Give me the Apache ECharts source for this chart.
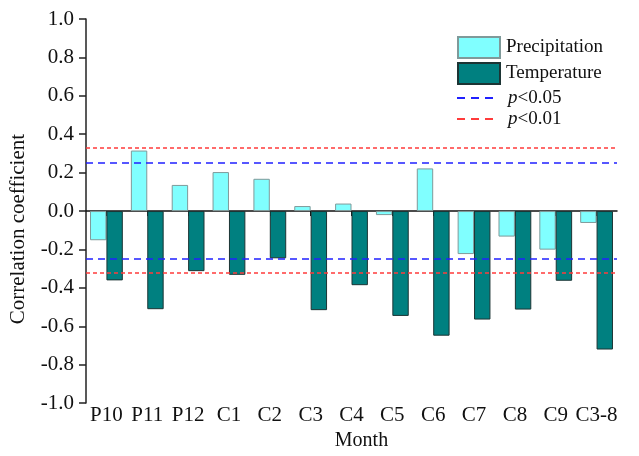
<!DOCTYPE html>
<html>
<head>
<meta charset="utf-8">
<style>
  html, body { margin: 0; padding: 0; background: #ffffff; }
  #chart { width: 639px; height: 456px; }
</style>
<script src="https://cdn.jsdelivr.net/npm/echarts@6/dist/echarts.min.js"></script>
</head>
<body>
<div id="chart"></div>
<script>
// Monthly correlation of growth with precipitation and temperature
const months = ['P10', 'P11', 'P12', 'C1', 'C2', 'C3', 'C4', 'C5', 'C6', 'C7', 'C8', 'C9', 'C3-8'];
const precipitation = [-0.152, 0.315, 0.136, 0.203, 0.168, 0.026, 0.039, -0.021, 0.222, -0.224, -0.133, -0.201, -0.062];
const temperature = [-0.361, -0.511, -0.313, -0.332, -0.246, -0.516, -0.386, -0.546, -0.649, -0.565, -0.513, -0.363, -0.721];
// significance thresholds (upper, lower)
const p05 = [0.25, -0.25];
const p01 = [0.33, -0.32];
const yTicks = [-1.0, -0.8, -0.6, -0.4, -0.2, 0.0, 0.2, 0.4, 0.6, 0.8, 1.0];

const FONT = 'Liberation Serif';
const BLUE = '#2020ff';
const RED = '#ff3b3b';
const blueDash = [7, 5];
const redDash = [4, 3];
// three short dashes used as the legend key for the threshold lines
const dashIcon = 'path://M0,0h8v2h-8z M14,0h8v2h-8z M28,0h8v2h-8z';

function thresholdLines(vals, color, dash) {
  return {
    silent: true,
    symbol: ['none', 'none'],
    label: { show: false },
    lineStyle: { color: color, type: dash, width: 1.5 },
    data: vals.map(v => ({ yAxis: v }))
  };
}

const chart = echarts.init(document.getElementById('chart'), null, { renderer: 'canvas' });

chart.setOption({
  backgroundColor: '#ffffff',
  animation: false,
  textStyle: { fontFamily: FONT },
  grid: { left: 86, right: 22, top: 19, bottom: 49 },
  legend: [
    {
      data: ['Precipitation', 'Temperature'],
      orient: 'vertical',
      left: 457,
      top: 36,
      padding: 0,
      itemWidth: 42,
      itemHeight: 21,
      itemGap: 3,
      selectedMode: false,
      icon: 'rect',
      textStyle: { fontFamily: FONT, fontSize: 19, color: '#111', padding: [0, 0, 0, 1] }
    },
    {
      data: [
        { name: 'p<0.05', icon: dashIcon },
        { name: 'p<0.01', icon: dashIcon }
      ],
      orient: 'vertical',
      left: 457,
      top: 88,
      padding: 0,
      itemWidth: 36,
      itemHeight: 2,
      itemGap: 1,
      selectedMode: false,
      formatter: name => '{i|p}' + name.slice(1),
      textStyle: {
        fontFamily: FONT, fontSize: 19, color: '#111', lineHeight: 20,
        rich: {
          i: { fontFamily: FONT, fontSize: 19, fontStyle: 'italic', color: '#111', lineHeight: 20, padding: [0, 0, 0, 10] }
        }
      }
    }
  ],
  xAxis: [
    {
      type: 'category',
      data: months,
      position: 'bottom',
      axisLine: { onZero: true, lineStyle: { color: '#111', width: 1.5 } },
      axisTick: { show: true, alignWithLabel: true, length: 5, lineStyle: { color: '#111' } },
      axisLabel: { show: false },
      splitLine: { show: false }
    },
    {
      type: 'category',
      data: months,
      position: 'bottom',
      name: 'Month',
      nameLocation: 'middle',
      nameGap: 14,
      nameTextStyle: { fontFamily: FONT, fontSize: 20, color: '#111', verticalAlign: 'top', padding: [0, 0, 0, 20] },
      axisLine: { show: false, onZero: false },
      axisTick: { show: false },
      axisLabel: { fontFamily: FONT, fontSize: 21, color: '#111', margin: 2, interval: 0 },
      splitLine: { show: false }
    }
  ],
  yAxis: {
    type: 'value',
    min: -1,
    max: 1,
    interval: 0.2,
    name: 'Correlation coefficient',
    nameLocation: 'middle',
    nameGap: 57,
    nameTextStyle: { fontFamily: FONT, fontSize: 21, color: '#111', padding: [0, 36, 0, 0] },
    axisLine: { show: true, lineStyle: { color: '#222', width: 1.5 } },
    axisTick: { show: true, length: 7, lineStyle: { color: '#222', width: 1.5 } },
    axisLabel: {
      fontFamily: FONT, fontSize: 21, color: '#111', margin: 12,
      formatter: v => {
        const t = yTicks.find(x => Math.abs(x - v) < 1e-9);
        return (t === undefined ? v : t).toFixed(1);
      }
    },
    splitLine: { show: false }
  },
  series: [
    {
      name: 'Precipitation',
      type: 'bar',
      xAxisIndex: 0,
      data: precipitation,
      barWidth: 16.4,
      barGap: '0%',
      itemStyle: { color: '#80ffff', borderColor: '#7f9a9a', borderWidth: 1 }
    },
    {
      name: 'Temperature',
      type: 'bar',
      xAxisIndex: 0,
      data: temperature,
      barWidth: 16.4,
      barGap: '0%',
      itemStyle: { color: '#008080', borderColor: '#1c3434', borderWidth: 1 }
    },
    {
      name: 'p<0.05',
      type: 'line',
      xAxisIndex: 0,
      data: [],
      symbol: 'none',
      color: BLUE,
      itemStyle: { color: BLUE },
      lineStyle: { color: BLUE, type: blueDash, width: 1.5 },
      markLine: thresholdLines(p05, BLUE, blueDash)
    },
    {
      name: 'p<0.01',
      type: 'line',
      xAxisIndex: 0,
      data: [],
      symbol: 'none',
      color: RED,
      itemStyle: { color: RED },
      lineStyle: { color: RED, type: redDash, width: 1.5 },
      markLine: thresholdLines(p01, RED, redDash)
    }
  ]
});
</script>
</body>
</html>
